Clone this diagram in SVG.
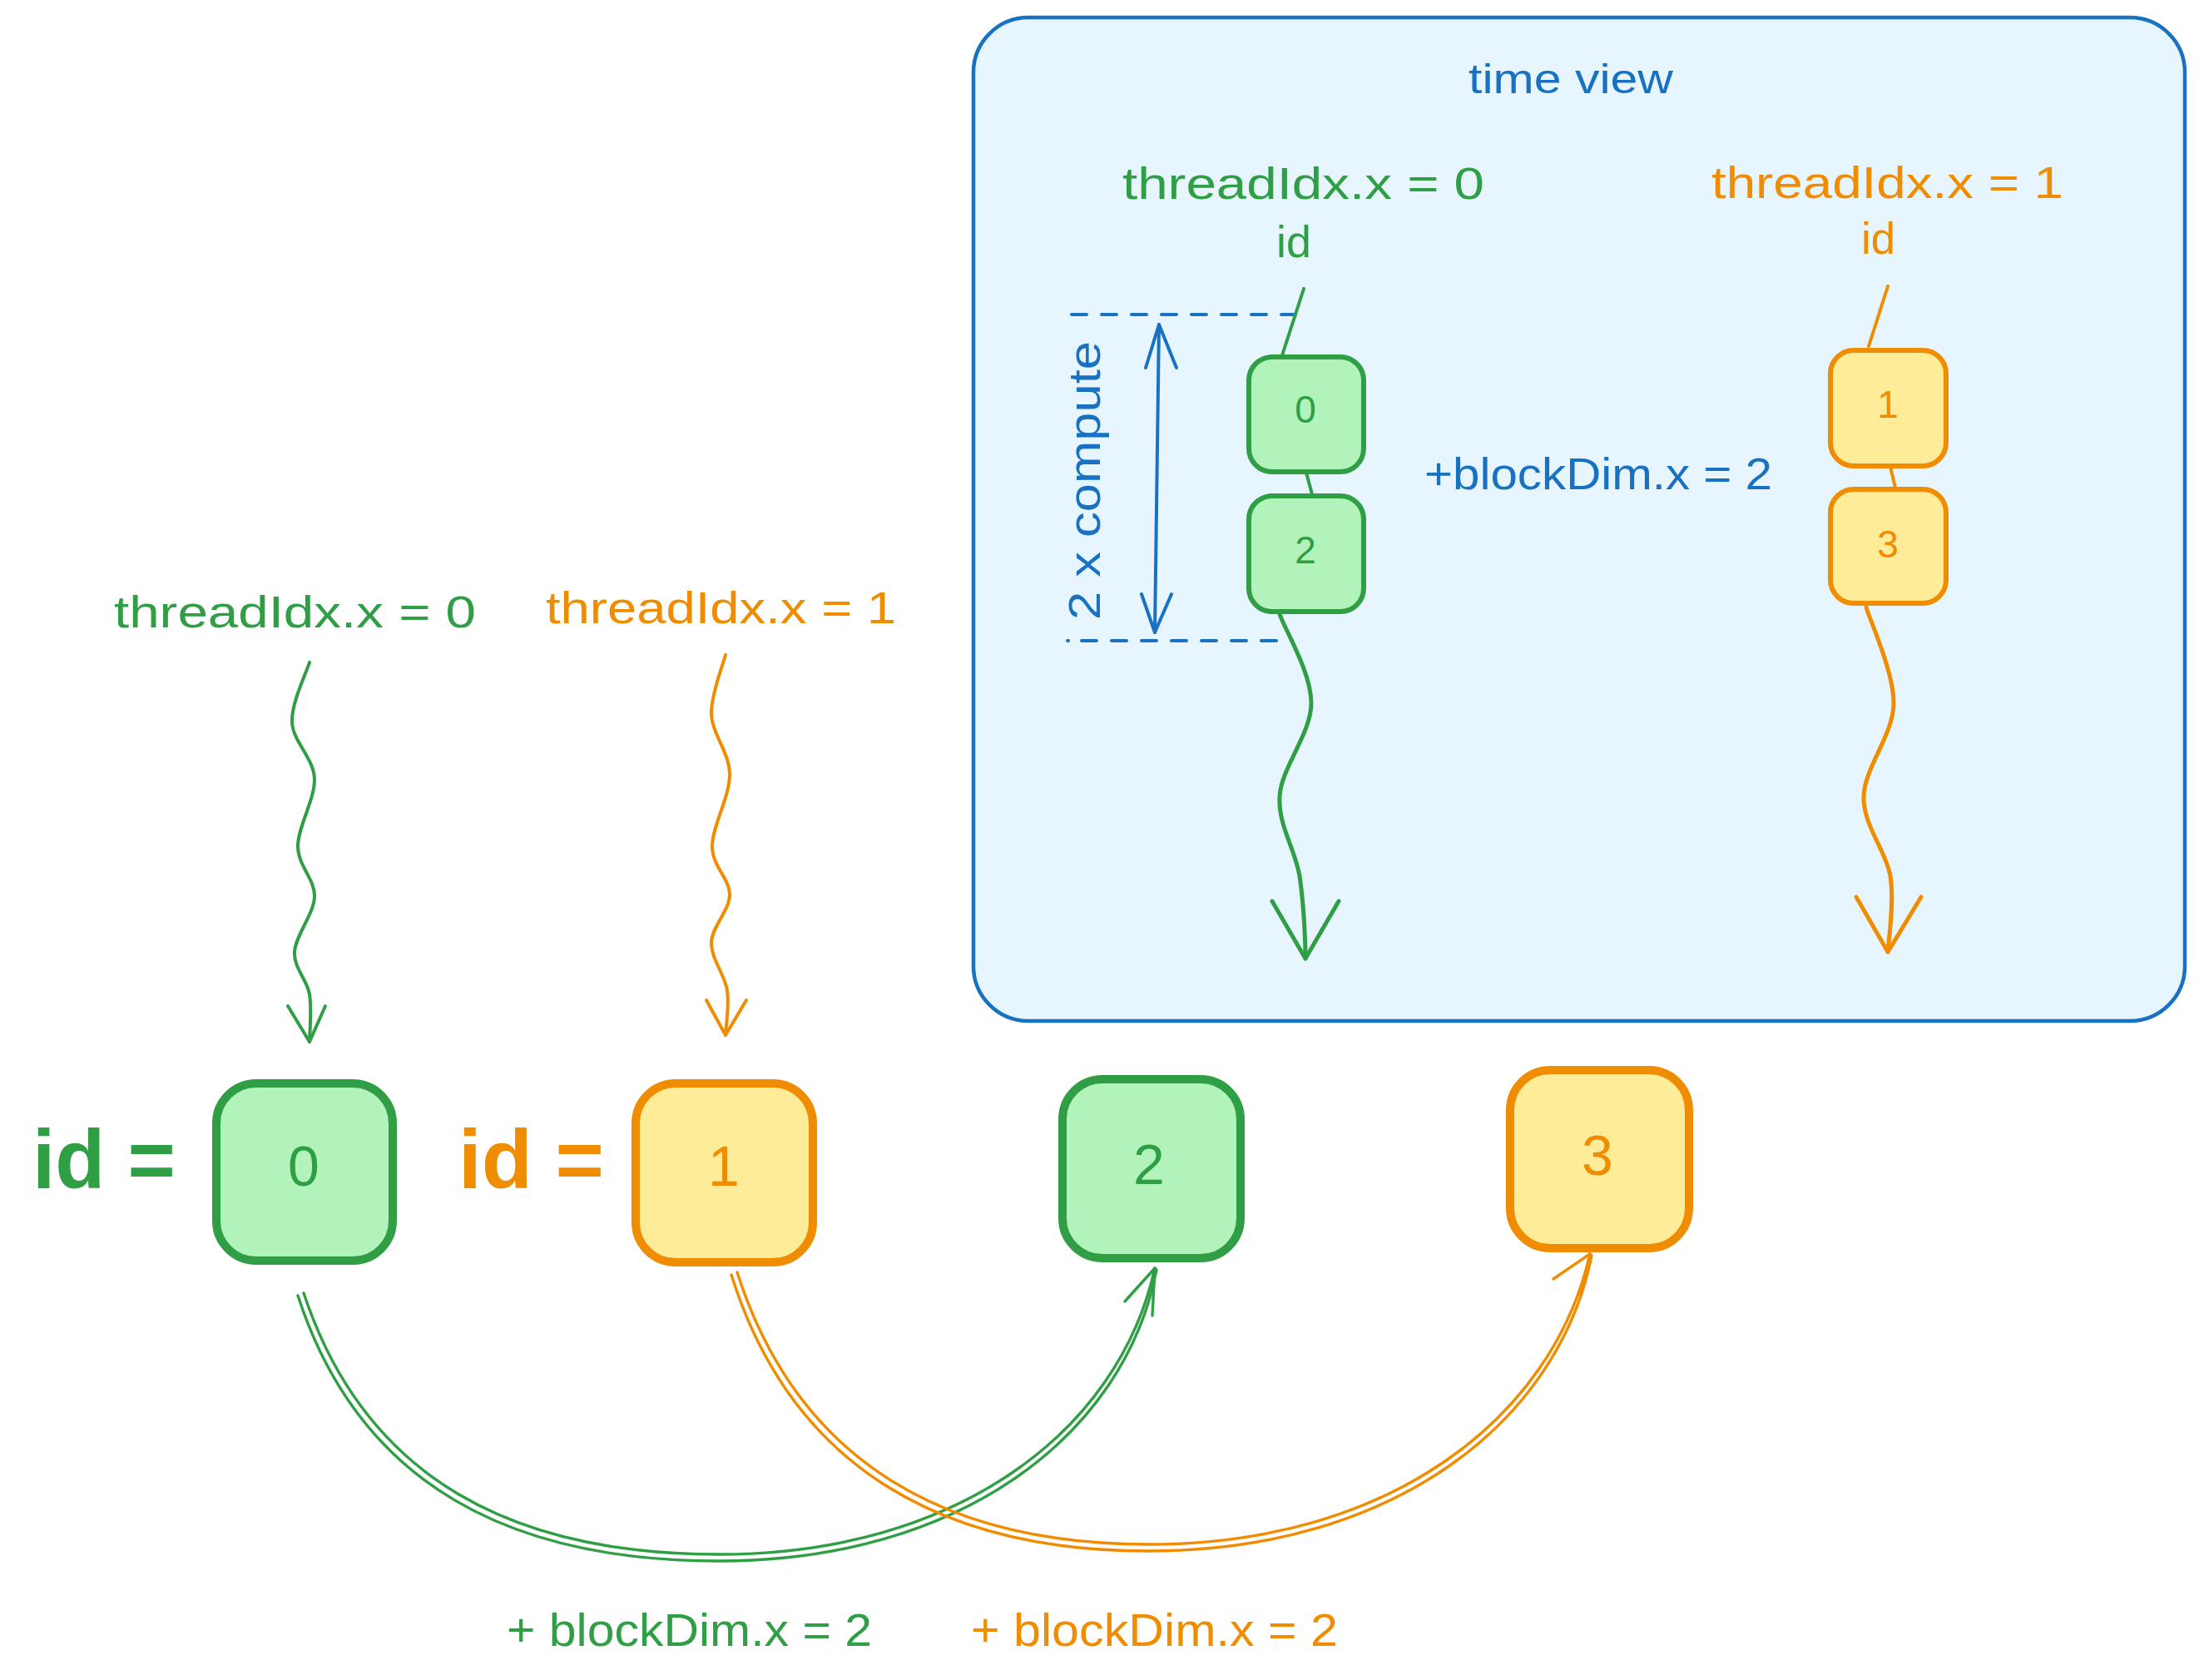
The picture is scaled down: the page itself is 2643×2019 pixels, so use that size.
<svg xmlns="http://www.w3.org/2000/svg" width="2643" height="2019" viewBox="0 0 2643 2019">
<style>
  text { font-family: "Liberation Sans", "Noto Sans", sans-serif; }
  .g { fill: #2f9e44; }
  .o { fill: #f08c00; }
  .b { fill: #1971c2; }
  .lbl { font-size: 54px; }
  .num { font-size: 68px; text-anchor: middle; }
  .snum { font-size: 46px; text-anchor: middle; }
  .gbox { fill: #b2f2bb; stroke: #2f9e44; }
  .obox { fill: #ffec99; stroke: #f08c00; }
  .big { stroke-width: 10; }
  .small { stroke-width: 6; }
  .gl { fill: none; stroke: #2f9e44; stroke-linecap: round; stroke-linejoin: round; }
  .ol { fill: none; stroke: #f08c00; stroke-linecap: round; stroke-linejoin: round; }
  .bl { fill: none; stroke: #1971c2; stroke-linecap: round; stroke-linejoin: round; }
</style>

<rect width="2643" height="2019" fill="#ffffff"/>

<g id="time-view">
  <rect x="1170" y="21" width="1456" height="1206" rx="66" fill="#e7f5ff" stroke="#1971c2" stroke-width="4.5"/>
  <text class="b lbl" x="1765" y="112" textLength="246" lengthAdjust="spacingAndGlyphs" style="font-size:50px">time view</text>
  <text class="g lbl" x="1349" y="239" textLength="435" lengthAdjust="spacingAndGlyphs">threadIdx.x = 0</text>
  <text class="g lbl" x="1534" y="309" textLength="42" lengthAdjust="spacingAndGlyphs">id</text>
  <text class="o lbl" x="2057" y="238" textLength="423" lengthAdjust="spacingAndGlyphs">threadIdx.x = 1</text>
  <text class="o lbl" x="2237" y="305" textLength="41" lengthAdjust="spacingAndGlyphs">id</text>
  <text class="b lbl" x="1712" y="588" textLength="418" lengthAdjust="spacingAndGlyphs">+blockDim.x = 2</text>
  <text class="b lbl" transform="translate(1322,745) rotate(-90)" x="0" y="0" textLength="335" lengthAdjust="spacingAndGlyphs">2 x compute</text>
</g>

<g id="connectors">
  <!-- time view: dashed guides and double arrow -->
  <path class="bl" d="M1288,378 L1557,378" stroke-width="4" stroke-dasharray="18 18"/>
  <path class="bl" d="M1283,770 L1543,770" stroke-width="4" stroke-dasharray="1 16 18 18 18 18 18 18 18 18 18 18 18 18 18 18"/>
  <path class="bl" d="M1393,390 L1388,760" stroke-width="4"/>
  <path class="bl" d="M1377,442 L1393,390 L1414,442" stroke-width="4"/>
  <path class="bl" d="M1372,714 L1388,760 L1408,714" stroke-width="4"/>

  <!-- time view green thread -->
  <path class="gl" d="M1567,347 L1541,427" stroke-width="4"/>
  <path class="gl" d="M1570,568 L1577,594" stroke-width="4"/>
  <path class="gl" d="M1538,738 C1544,756 1576,808 1576,845 C1576,882 1540,922 1538,957 C1536,992 1557,1021 1562,1053 C1567,1086 1569,1130 1569,1152" stroke-width="5"/>
  <path class="gl" d="M1529,1083 L1569,1152 L1609,1083" stroke-width="5"/>

  <!-- time view orange thread -->
  <path class="ol" d="M2269,344 L2246,416" stroke-width="4"/>
  <path class="ol" d="M2272,561 L2278,586" stroke-width="4"/>
  <path class="ol" d="M2243,730 C2249,749 2276,808 2276,845 C2276,883 2241,922 2240,957 C2239,992 2267,1022 2272,1053 C2277,1085 2270,1128 2269,1144" stroke-width="5"/>
  <path class="ol" d="M2231,1078 L2269,1144 L2309,1078" stroke-width="5"/>

  <!-- main wavy arrows -->
  <path class="gl" d="M372,796 C368.5,808 350,844.5 351,868 C352,891.5 378,912 378,937 C378,962 358,993.5 358,1017 C358,1040.5 379,1057 378,1078 C377,1099 355,1124.5 354,1144 C353,1163.5 369,1177 372,1195 C375,1213 372,1242.5 372,1252" stroke-width="4"/>
  <path class="gl" d="M346,1209 L372,1252 L391,1209" stroke-width="4"/>
  <path class="ol" d="M872,787 C869,799 855,833 855,857 C855,881 877,904 877,931 C877,958 856,993 856,1017 C856,1041 877,1056 877,1075 C877,1094 856,1113 855,1132 C854,1151 871,1171 874,1190 C877,1209 872,1235 872,1244" stroke-width="4"/>
  <path class="ol" d="M849,1202 L872,1244 L897,1202" stroke-width="4"/>

  <!-- main green curve (double line) -->
  <path class="gl" stroke-width="3.4" d="M365,1554 C440,1780 620,1868 864,1868 C1150,1868 1345,1720 1388,1524"/>
  <path class="gl" stroke-width="3.4" d="M358,1557 C433,1788 618,1876 864,1876 C1155,1876 1352,1724 1390,1526"/>
  <path class="gl" stroke-width="3.4" d="M1352,1564 L1388,1524 L1385,1581"/>

  <!-- main orange curve (double line) -->
  <path class="ol" stroke-width="3.4" d="M886,1529 C960,1760 1140,1856 1380,1856 C1670,1856 1866,1705 1911,1507"/>
  <path class="ol" stroke-width="3.4" d="M879,1532 C953,1768 1138,1864 1380,1864 C1675,1864 1873,1709 1913,1509"/>
  <path class="ol" stroke-width="3.4" d="M1867,1537 L1911,1507 L1900,1556"/>
</g>

<g id="tv-box-0">
  <rect class="gbox small" x="1501" y="429" width="138" height="138" rx="28"/>
  <text class="g snum" x="1569" y="508">0</text>
</g>
<g id="tv-box-2">
  <rect class="gbox small" x="1501" y="596" width="138" height="139" rx="28"/>
  <text class="g snum" x="1569" y="677">2</text>
</g>
<g id="tv-box-1">
  <rect class="obox small" x="2200" y="421" width="139" height="139" rx="28"/>
  <text class="o snum" x="2269" y="502">1</text>
</g>
<g id="tv-box-3">
  <rect class="obox small" x="2200" y="588" width="139" height="137" rx="28"/>
  <text class="o snum" x="2269" y="670">3</text>
</g>

<g id="label-thread0">
  <text class="g lbl" x="137" y="754" textLength="435" lengthAdjust="spacingAndGlyphs">threadIdx.x = 0</text>
</g>
<g id="label-thread1">
  <text class="o lbl" x="656" y="749" textLength="421" lengthAdjust="spacingAndGlyphs">threadIdx.x = 1</text>
</g>

<g id="label-id-green">
  <text class="g" x="39" y="1428" textLength="172" lengthAdjust="spacingAndGlyphs" style="font-size:100px;font-weight:bold">id =</text>
</g>
<g id="label-id-orange">
  <text class="o" x="551" y="1428" textLength="175" lengthAdjust="spacingAndGlyphs" style="font-size:100px;font-weight:bold">id =</text>
</g>

<g id="box-0">
  <rect class="gbox big" x="260" y="1302" width="212" height="213" rx="48"/>
  <text class="g num" x="365" y="1425">0</text>
</g>
<g id="box-1">
  <rect class="obox big" x="764" y="1302" width="213" height="215" rx="48"/>
  <text class="o num" x="870" y="1425">1</text>
</g>
<g id="box-2">
  <rect class="gbox big" x="1277" y="1297" width="214" height="215" rx="48"/>
  <text class="g num" x="1381" y="1423">2</text>
</g>
<g id="box-3">
  <rect class="obox big" x="1815" y="1286" width="215" height="214" rx="48"/>
  <text class="o num" x="1920" y="1412">3</text>
</g>

<g id="label-blockdim-green">
  <text class="g lbl" x="609" y="1978" textLength="439" lengthAdjust="spacingAndGlyphs" style="font-size:56px">+ blockDim.x = 2</text>
</g>
<g id="label-blockdim-orange">
  <text class="o lbl" x="1167" y="1978" textLength="441" lengthAdjust="spacingAndGlyphs" style="font-size:56px">+ blockDim.x = 2</text>
</g>
</svg>
